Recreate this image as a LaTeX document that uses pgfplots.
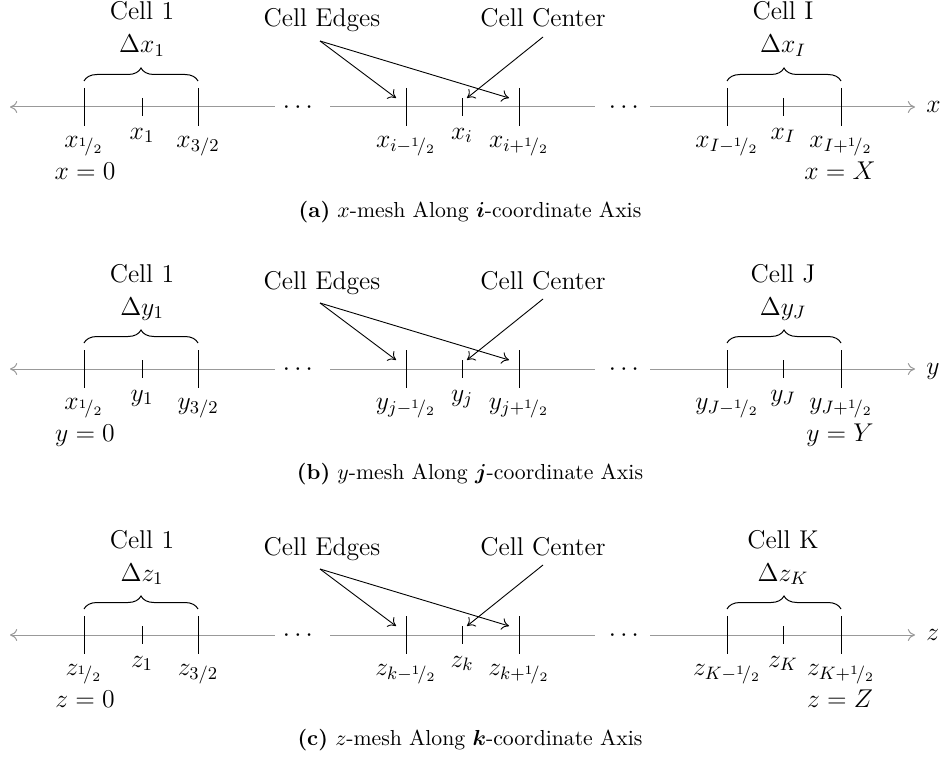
\RequirePackage{fix-cm}
\documentclass[border=0pt]{standalone}
\usepackage{amsmath}
\usepackage{pgfplots}
\pgfplotsset{compat=1.18}
\usetikzlibrary{decorations.pathreplacing,arrows.meta}
\newcommand{\half}{{}^{1}\!/_{2}}
\definecolor{axgray}{gray}{0.6}
\tikzset{
  meshtip/.tip={To[length=3.6bp,width=6bp]},
  meshax/.style={axgray, line width=0.5bp},
  meshtk/.style={black, line width=0.45bp},
  mesharr/.style={black, line width=0.45bp, -meshtip},
  meshbrace/.style={black, line width=0.5bp, decorate, decoration={brace, amplitude=6.5bp}},
  meshlbl/.style={inner sep=0pt, anchor=base, font=\fontsize{12.9}{15}\selectfont},
  meshcap/.style={inner sep=0pt, anchor=base, font=\fontsize{10.9}{13}\selectfont},
}
\begin{document}
\begin{tikzpicture}
\begin{axis}[
  width=470.5bp, height=378.5bp, scale only axis,
  xmin=0, xmax=941, ymin=0, ymax=757, y dir=reverse,
  hide axis, clip=false,
]
\addplot[draw=none] coordinates {(0,0) (941,757)};
% ================= panel (a), axis at y = 107
\addplot[meshax, meshtip-] coordinates {(10,107) (275,107)};
\addplot[meshax] coordinates {(330,107) (595,107)};
\addplot[meshax, -meshtip] coordinates {(650,107) (915,107)};
\addplot[meshtk] coordinates {(84,88) (84,126)};
\addplot[meshtk] coordinates {(142,98) (142,116)};
\addplot[meshtk] coordinates {(198,88) (198,126)};
\addplot[meshtk] coordinates {(406,88) (406,126)};
\addplot[meshtk] coordinates {(462,98) (462,116)};
\addplot[meshtk] coordinates {(519,88) (519,126)};
\addplot[meshtk] coordinates {(727,88) (727,126)};
\addplot[meshtk] coordinates {(783,98) (783,116)};
\addplot[meshtk] coordinates {(841,88) (841,126)};
\addplot[meshbrace] coordinates {(84,81) (198,81)};
\addplot[meshbrace] coordinates {(727,81) (841,81)};
\addplot[mesharr] coordinates {(320,41) (396,98)};
\addplot[mesharr] coordinates {(320,41) (509,98)};
\addplot[mesharr] coordinates {(543,37) (467,98)};
\node[meshlbl] at (axis cs:142,20) {Cell 1};
\node[meshlbl] at (axis cs:142,53) {$\Delta x_1$};
\node[meshlbl] at (axis cs:783,20) {Cell I};
\node[meshlbl] at (axis cs:783,53) {$\Delta x_I$};
\node[meshlbl] at (axis cs:322,27) {Cell Edges};
\node[meshlbl] at (axis cs:543,27) {Cell Center};
\node[meshlbl] at (axis cs:300,113.5) {$\cdots$};
\node[meshlbl] at (axis cs:626,113.5) {$\cdots$};
\node[meshlbl, anchor=base west] at (axis cs:926,112.5) {$x$};
\node[meshlbl] at (axis cs:84,147) {$x_{\half}$};
\node[meshlbl] at (axis cs:142,139) {$x_1$};
\node[meshlbl] at (axis cs:198,147) {$x_{3/2}$};
\node[meshlbl] at (axis cs:406,147) {$x_{i-\half}$};
\node[meshlbl] at (axis cs:462,139) {$x_i$};
\node[meshlbl] at (axis cs:519,147) {$x_{i+\half}$};
\node[meshlbl] at (axis cs:727,147) {$x_{I-\half}$};
\node[meshlbl] at (axis cs:783,139) {$x_I$};
\node[meshlbl] at (axis cs:841,147) {$x_{I+\half}$};
\node[meshlbl] at (axis cs:85,179) {$x=0$};
\node[meshlbl] at (axis cs:840,179) {$x=X$};
\node[meshcap] at (axis cs:470,217) {\textbf{(a)} $x$-mesh Along $\boldsymbol{i}$-coordinate Axis};
% ================= panel (b), axis at y = 369
\addplot[meshax, meshtip-] coordinates {(10,369) (275,369)};
\addplot[meshax] coordinates {(330,369) (595,369)};
\addplot[meshax, -meshtip] coordinates {(650,369) (915,369)};
\addplot[meshtk] coordinates {(84,350) (84,388)};
\addplot[meshtk] coordinates {(142,360) (142,378)};
\addplot[meshtk] coordinates {(198,350) (198,388)};
\addplot[meshtk] coordinates {(406,350) (406,388)};
\addplot[meshtk] coordinates {(462,360) (462,378)};
\addplot[meshtk] coordinates {(519,350) (519,388)};
\addplot[meshtk] coordinates {(727,350) (727,388)};
\addplot[meshtk] coordinates {(783,360) (783,378)};
\addplot[meshtk] coordinates {(841,350) (841,388)};
\addplot[meshbrace] coordinates {(84,343) (198,343)};
\addplot[meshbrace] coordinates {(727,343) (841,343)};
\addplot[mesharr] coordinates {(320,303) (396,360)};
\addplot[mesharr] coordinates {(320,303) (509,360)};
\addplot[mesharr] coordinates {(543,299) (467,360)};
\node[meshlbl] at (axis cs:142,282) {Cell 1};
\node[meshlbl] at (axis cs:142,315) {$\Delta y_1$};
\node[meshlbl] at (axis cs:783,282) {Cell J};
\node[meshlbl] at (axis cs:783,315) {$\Delta y_J$};
\node[meshlbl] at (axis cs:322,289) {Cell Edges};
\node[meshlbl] at (axis cs:543,289) {Cell Center};
\node[meshlbl] at (axis cs:300,375.5) {$\cdots$};
\node[meshlbl] at (axis cs:626,375.5) {$\cdots$};
\node[meshlbl, anchor=base west] at (axis cs:926,374.5) {$y$};
\node[meshlbl] at (axis cs:84,409) {$x_{\half}$};
\node[meshlbl] at (axis cs:142,401) {$y_1$};
\node[meshlbl] at (axis cs:198,409) {$y_{3/2}$};
\node[meshlbl] at (axis cs:406,409) {$y_{j-\half}$};
\node[meshlbl] at (axis cs:462,401) {$y_j$};
\node[meshlbl] at (axis cs:519,409) {$y_{j+\half}$};
\node[meshlbl] at (axis cs:727,409) {$y_{J-\half}$};
\node[meshlbl] at (axis cs:783,401) {$y_J$};
\node[meshlbl] at (axis cs:841,409) {$y_{J+\half}$};
\node[meshlbl] at (axis cs:85,441) {$y=0$};
\node[meshlbl] at (axis cs:840,441) {$y=Y$};
\node[meshcap] at (axis cs:470,479) {\textbf{(b)} $y$-mesh Along $\boldsymbol{j}$-coordinate Axis};
% ================= panel (c), axis at y = 635
\addplot[meshax, meshtip-] coordinates {(10,635) (275,635)};
\addplot[meshax] coordinates {(330,635) (595,635)};
\addplot[meshax, -meshtip] coordinates {(650,635) (915,635)};
\addplot[meshtk] coordinates {(84,616) (84,654)};
\addplot[meshtk] coordinates {(142,626) (142,644)};
\addplot[meshtk] coordinates {(198,616) (198,654)};
\addplot[meshtk] coordinates {(406,616) (406,654)};
\addplot[meshtk] coordinates {(462,626) (462,644)};
\addplot[meshtk] coordinates {(519,616) (519,654)};
\addplot[meshtk] coordinates {(727,616) (727,654)};
\addplot[meshtk] coordinates {(783,626) (783,644)};
\addplot[meshtk] coordinates {(841,616) (841,654)};
\addplot[meshbrace] coordinates {(84,609) (198,609)};
\addplot[meshbrace] coordinates {(727,609) (841,609)};
\addplot[mesharr] coordinates {(320,569) (396,626)};
\addplot[mesharr] coordinates {(320,569) (509,626)};
\addplot[mesharr] coordinates {(543,565) (467,626)};
\node[meshlbl] at (axis cs:142,548) {Cell 1};
\node[meshlbl] at (axis cs:142,581) {$\Delta z_1$};
\node[meshlbl] at (axis cs:783,548) {Cell K};
\node[meshlbl] at (axis cs:783,581) {$\Delta z_K$};
\node[meshlbl] at (axis cs:322,555) {Cell Edges};
\node[meshlbl] at (axis cs:543,555) {Cell Center};
\node[meshlbl] at (axis cs:300,641.5) {$\cdots$};
\node[meshlbl] at (axis cs:626,641.5) {$\cdots$};
\node[meshlbl, anchor=base west] at (axis cs:926,640.5) {$z$};
\node[meshlbl] at (axis cs:84,675) {$z_{\half}$};
\node[meshlbl] at (axis cs:142,667) {$z_1$};
\node[meshlbl] at (axis cs:198,675) {$z_{3/2}$};
\node[meshlbl] at (axis cs:406,675) {$z_{k-\half}$};
\node[meshlbl] at (axis cs:462,667) {$z_k$};
\node[meshlbl] at (axis cs:519,675) {$z_{k+\half}$};
\node[meshlbl] at (axis cs:727,675) {$z_{K-\half}$};
\node[meshlbl] at (axis cs:783,667) {$z_K$};
\node[meshlbl] at (axis cs:841,675) {$z_{K+\half}$};
\node[meshlbl] at (axis cs:85,707) {$z=0$};
\node[meshlbl] at (axis cs:840,707) {$z=Z$};
\node[meshcap] at (axis cs:470,745) {\textbf{(c)} $z$-mesh Along $\boldsymbol{k}$-coordinate Axis};
\end{axis}
\end{tikzpicture}
\end{document}
